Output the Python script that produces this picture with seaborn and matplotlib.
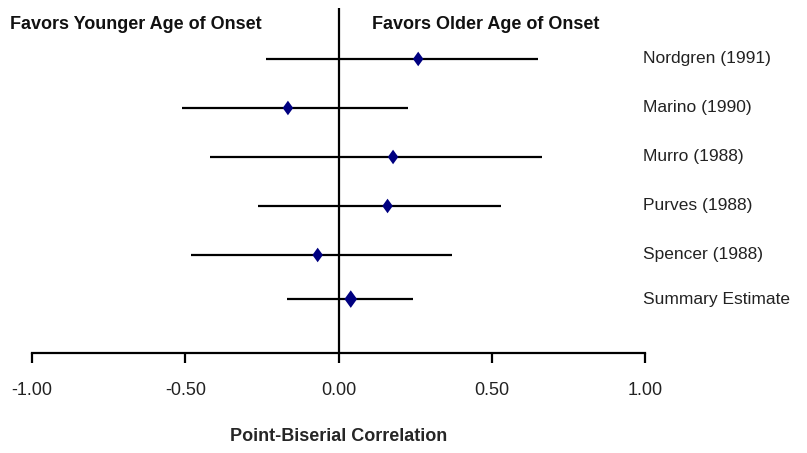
"""
Forest plot: point-biserial correlation by study, age of onset.
"""

import matplotlib
matplotlib.use("Agg")
import matplotlib.pyplot as plt
import numpy as np
import pandas as pd
import seaborn as sns

# ── data ──
studies = ["Nordgren (1991)", "Marino (1990)", "Murro (1988)",
           "Purves (1988)", "Spencer (1988)", "Summary Estimate"]
estimate = [0.26, -0.165, 0.178, 0.160, -0.068, 0.040]
ci_low = [-0.237, -0.510, -0.418, -0.263, -0.482, -0.167]
ci_high = [0.650, 0.226, 0.663, 0.530, 0.369, 0.244]
xticks = [-1.0, -0.5, 0.0, 0.5, 1.0]

# row layout (summary row sits a bit closer to the one above)
rows = np.array([0, 1, 2, 3, 4, 4.9])

df = pd.DataFrame({
    "study": studies,
    "r": estimate,
    "lo": ci_low,
    "hi": ci_high,
    "row": rows,
    "kind": ["study"] * 5 + ["summary"],
})

sns.set_theme(style="white")
plt.rcParams["font.family"] = ["Liberation Sans Narrow", "Liberation Sans", "DejaVu Sans"]

fig = plt.figure(figsize=(8.07, 4.53), dpi=100)
ax = fig.add_axes([32 / 807, 100 / 453, 613 / 807, 345 / 453])

NAVY = "#000080"
diamond = [(0, 1), (0.72, 0), (0, -1), (-0.72, 0), (0, 1)]

ax.hlines(df["row"], df["lo"], df["hi"], color="black", lw=1.6, zorder=2)
ax.axvline(0, color="black", lw=1.6, zorder=1)

sns.scatterplot(data=df, x="r", y="row", size="kind", sizes={"study": 110, "summary": 160},
                marker=diamond, color=NAVY, edgecolor=NAVY, linewidth=0,
                legend=False, zorder=3, ax=ax)

ax.set_xlim(-1, 1)
ax.set_ylim(6.0, -1.04)
ax.set_xticks(xticks)
ax.set_xticklabels([f"{t:.2f}" for t in xticks])
ax.set_yticks([])
ax.set_ylabel("")
ax.set_xlabel("Point-Biserial Correlation", fontsize=13, fontweight="bold", labelpad=21)

for side in ["top", "right", "left"]:
    ax.spines[side].set_visible(False)
ax.spines["bottom"].set_linewidth(1.6)
ax.spines["bottom"].set_color("black")
ax.tick_params(axis="x", direction="out", length=7, width=1.6, color="black",
               pad=14, labelsize=13, labelcolor="#222222", bottom=True)

# study labels on the right
for _, rec in df.iterrows():
    ax.text(0.995, rec["row"], rec["study"], ha="left", va="center",
            fontsize=12.5, color="#222222", clip_on=False)

ax.text(-1.073, -0.71, "Favors Younger Age of Onset", ha="left", va="center",
        fontsize=13, fontweight="bold", color="#111111", clip_on=False)
ax.text(0.108, -0.71, "Favors Older Age of Onset", ha="left", va="center",
        fontsize=13, fontweight="bold", color="#111111", clip_on=False)

fig.savefig("out.png", dpi=100)
plt.close(fig)
